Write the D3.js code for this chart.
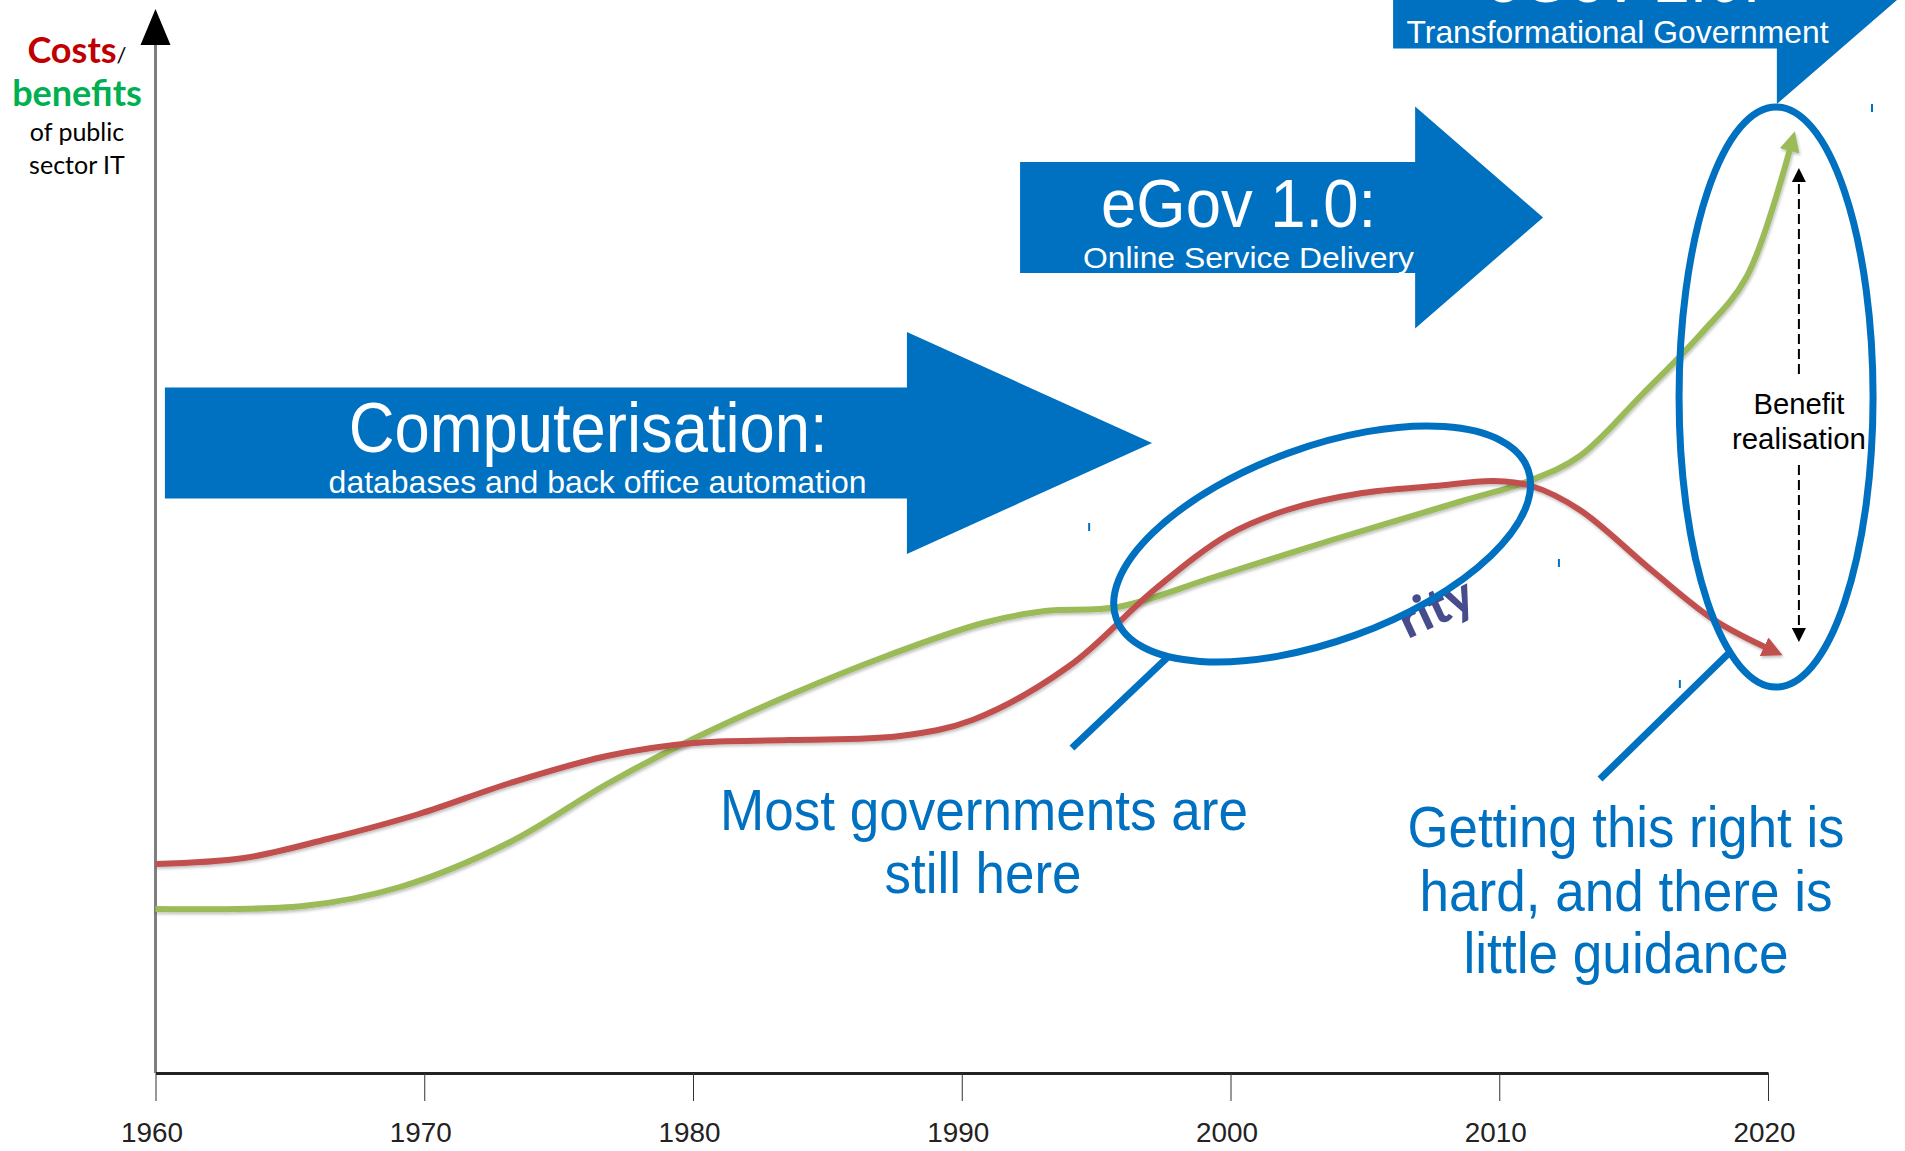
<!DOCTYPE html>
<html>
<head>
<meta charset="utf-8">
<script src="https://cdn.jsdelivr.net/npm/d3@7"></script>
<style>
body { margin: 0; background: #fff; }
</style>
</head>
<body>
<div id="chart"></div>
<script>
// x axis
var tickYears = [1960, 1970, 1980, 1990, 2000, 2010, 2020];

// red curve: costs
var costYears = [1960, 1963.3, 1966.4, 1969.8, 1973.2, 1976.8, 1980, 1983.6, 1987.7, 1990.4, 1994, 1997.2, 1999.9, 2002.1, 2004.9, 2007.6, 2009.8, 2011.2, 2013, 2015.7, 2018, 2020.2];
var costValues = [20.9, 21.5, 23.4, 25.9, 29.0, 31.7, 33.0, 33.3, 33.7, 35.3, 40.7, 48.4, 53.8, 56.3, 58.0, 58.7, 59.2, 58.7, 56.3, 50.2, 45.3, 42.2];

// green curve: benefits
var benefitYears = [1960, 1965.5, 1969.1, 1973.2, 1976.8, 1980, 1983.6, 1987.2, 1990.8, 1993.1, 1995.8, 1999.4, 2003.9, 2008.5, 2011.2, 2013, 2015.3, 2017.5, 2019.2, 2020.9];
var benefitValues = [16.4, 16.7, 18.6, 23.1, 28.9, 33.4, 37.8, 41.7, 45.0, 46.2, 46.6, 49.6, 53.4, 57.1, 59.3, 61.7, 67.8, 73.9, 79.6, 93.2];

// eras, drawn as big blue arrows
var phaseTitles = ["Computerisation:", "eGov 1.0:", "eGov 2.0:"];
var phaseSubtitles = ["databases and back office automation", "Online Service Delivery", "Transformational Government"];
var phaseStart = [1960.35, 1992.17, 2006.05];
var phaseHeadStart = [1987.96, 2006.87, 2020.33];
var phaseTip = [1997.08, 2011.63, 2025.1];
var phaseLevel = [63, 85.55, 108];

var width = 1905, height = 1151;
var blue = "#0070c0", red = "#c0504d", green = "#9bbb59";

var svg = d3.select("#chart").append("svg")
	.attr("width", width)
	.attr("height", height)
	.style("display", "block");

var x = d3.scaleLinear().domain([1960, 2020]).range([155.5, 1768]);
var y = d3.scaleLinear().domain([0, 100]).range([1073, 73]);

var defs = svg.append("defs");

function head(id, color, size, units) {
	defs.append("marker")
		.attr("id", id)
		.attr("viewBox", "0 0 10 10")
		.attr("refX", 5)
		.attr("refY", 5)
		.attr("markerWidth", size)
		.attr("markerHeight", size)
		.attr("markerUnits", units)
		.attr("orient", "auto")
		.append("path")
		.attr("d", "M0,0L10,5L0,10z")
		.attr("fill", color);
}
head("headRed", red, 3.4, "strokeWidth");
head("headGreen", green, 3.4, "strokeWidth");
head("headBlack", "#000", 14, "userSpaceOnUse");

var shadow = defs.append("filter").attr("id", "soft")
	.attr("x", "-5%").attr("y", "-5%").attr("width", "110%").attr("height", "110%");
shadow.append("feDropShadow")
	.attr("dx", 1).attr("dy", 2).attr("stdDeviation", 1.5)
	.attr("flood-color", "#000").attr("flood-opacity", 0.25);

// y axis with arrow on top
svg.append("line")
	.attr("x1", x(1960)).attr("x2", x(1960))
	.attr("y1", y.range()[0]).attr("y2", 40)
	.attr("stroke", "#7f7f7f")
	.attr("stroke-width", 3);
svg.append("path")
	.attr("d", "M" + x(1960) + ",9 L" + (x(1960) + 15) + ",45 L" + (x(1960) - 15) + ",45 Z")
	.attr("fill", "#000");

// x axis
var xAxis = svg.append("g")
	.attr("transform", "translate(0," + y(0) + ")")
	.call(d3.axisBottom(x)
		.tickValues(tickYears)
		.tickFormat(d3.format("d"))
		.tickSize(28)
		.tickSizeOuter(0)
		.tickPadding(21));
xAxis.select(".domain").attr("stroke", "#222").attr("stroke-width", 3);
xAxis.selectAll(".tick line").attr("stroke", "#333").attr("stroke-width", 1);
xAxis.selectAll(".tick text")
	.attr("x", -4)
	.attr("fill", "#222")
	.attr("font-family", "'Liberation Sans', Arial, sans-serif")
	.attr("font-size", 28)
	.attr("textLength", 62)
	.attr("lengthAdjust", "spacingAndGlyphs");

// curves
var line = d3.line()
	.x(function (d) { return x(d[0]); })
	.y(function (d) { return y(d[1]); })
	.curve(d3.curveCatmullRom.alpha(0.5));

svg.append("path")
	.datum(d3.zip(benefitYears, benefitValues))
	.attr("d", line)
	.attr("fill", "none")
	.attr("stroke", green)
	.attr("stroke-width", 6)
	.attr("filter", "url(#soft)")
	.attr("marker-end", "url(#headGreen)");

svg.append("path")
	.datum(d3.zip(costYears, costValues))
	.attr("d", line)
	.attr("fill", "none")
	.attr("stroke", red)
	.attr("stroke-width", 6)
	.attr("filter", "url(#soft)")
	.attr("marker-end", "url(#headRed)");

// "...rity" fragment under the ellipse
svg.append("text")
	.attr("transform", "translate(" + x(2007.9) + "," + y(45.0) + ") rotate(-25)")
	.attr("text-anchor", "middle")
	.attr("font-family", "Lato, 'Open Sans', sans-serif")
	.attr("font-weight", "900")
	.attr("font-size", 50)
	.attr("fill", "#474d8c")
	.text("rity");

// era arrows
var halfBody = 5.55, halfHead = 11.1;
var titleX = [1976.1, 2000.3, 2014.6];
var subX = [1976.45, 2000.67, 2014.4];
var titleSize = [70, 68, 68];
var titleLen = [479, 275, 275];
var subSize = [32, 30, 32];
var subLen = [538, 331, 422];

phaseTitles.forEach(function (t, i) {
	var lv = phaseLevel[i];
	var pts = [
		[phaseStart[i], lv + halfBody],
		[phaseHeadStart[i], lv + halfBody],
		[phaseHeadStart[i], lv + halfHead],
		[phaseTip[i], lv],
		[phaseHeadStart[i], lv - halfHead],
		[phaseHeadStart[i], lv - halfBody],
		[phaseStart[i], lv - halfBody]
	];
	svg.append("polygon")
		.attr("points", pts.map(function (p) { return x(p[0]) + "," + y(p[1]); }).join(" "))
		.attr("fill", blue);

	svg.append("text")
		.attr("x", x(titleX[i]))
		.attr("y", y(lv) + 9)
		.attr("text-anchor", "middle")
		.attr("font-family", "'Liberation Sans', Arial, sans-serif")
		.attr("font-size", titleSize[i])
		.attr("textLength", titleLen[i])
		.attr("lengthAdjust", "spacingAndGlyphs")
		.attr("fill", "#fff")
		.text(t);

	svg.append("text")
		.attr("x", x(subX[i]))
		.attr("y", y(lv) + 50)
		.attr("text-anchor", "middle")
		.attr("font-family", "'Liberation Sans', Arial, sans-serif")
		.attr("font-size", subSize[i])
		.attr("textLength", subLen[i])
		.attr("lengthAdjust", "spacingAndGlyphs")
		.attr("fill", "#fff")
		.text(phaseSubtitles[i]);
});

// ellipses
svg.append("ellipse")
	.attr("transform", "translate(" + x(2003.41) + "," + y(52.9) + ") rotate(-20)")
	.attr("rx", 219)
	.attr("ry", 97)
	.attr("fill", "none")
	.attr("stroke", blue)
	.attr("stroke-width", 7);

svg.append("ellipse")
	.attr("cx", x(2020.3))
	.attr("cy", y(67.6))
	.attr("rx", 97)
	.attr("ry", 290)
	.attr("fill", "none")
	.attr("stroke", blue)
	.attr("stroke-width", 7);

// pointers
var pointers = [[1997.71, 41.7, 1994.1, 32.5], [2018.51, 41.9, 2013.75, 29.4]];
pointers.forEach(function (p) {
	svg.append("line")
		.attr("x1", x(p[0])).attr("y1", y(p[1]))
		.attr("x2", x(p[2])).attr("y2", y(p[3]))
		.attr("stroke", blue)
		.attr("stroke-width", 7);
});

// small stray marks
var marks = [[1994.74, 54.6], [2012.22, 51.0], [2023.87, 96.5], [2016.72, 38.9]];
marks.forEach(function (m) {
	svg.append("line")
		.attr("x1", x(m[0])).attr("x2", x(m[0]))
		.attr("y1", y(m[1]) - 4).attr("y2", y(m[1]) + 4)
		.attr("stroke", blue)
		.attr("stroke-width", 2);
});

// benefit realisation gap
var gapYear = 2021.15;
svg.append("line")
	.attr("x1", x(gapYear)).attr("x2", x(gapYear))
	.attr("y1", y(69.9)).attr("y2", y(89.8))
	.attr("stroke", "#000").attr("stroke-width", 2)
	.attr("stroke-dasharray", "10,5")
	.attr("marker-end", "url(#headBlack)");
svg.append("line")
	.attr("x1", x(gapYear)).attr("x2", x(gapYear))
	.attr("y1", y(60.8)).attr("y2", y(43.8))
	.attr("stroke", "#000").attr("stroke-width", 2)
	.attr("stroke-dasharray", "10,5")
	.attr("marker-end", "url(#headBlack)");

function label(txt, cx, base, size, len, color) {
	var t = svg.append("text")
		.attr("x", cx)
		.attr("y", base)
		.attr("text-anchor", "middle")
		.attr("font-family", "'Liberation Sans', Arial, sans-serif")
		.attr("font-size", size)
		.attr("fill", color)
		.text(txt);
	if (len) t.attr("textLength", len).attr("lengthAdjust", "spacingAndGlyphs");
	return t;
}

label("Benefit", x(gapYear), 414, 30, 91, "#000");
label("realisation", x(gapYear), 449, 30, 134, "#000");

label("Most governments are", 984, 830, 57, 528, blue);
label("still here", 983, 893, 57, 197, blue);
label("Getting this right is", 1626, 847, 57, 437, blue);
label("hard, and there is", 1626, 911, 57, 413, blue);
label("little guidance", 1626, 973, 57, 325, blue);

// y axis title
var yt = svg.append("g")
	.attr("font-family", "Lato, 'Open Sans', sans-serif")
	.attr("text-anchor", "middle");
var t1 = yt.append("text").attr("x", 77).attr("y", 63);
t1.append("tspan").attr("font-weight", "bold").attr("font-size", 36).attr("fill", "#c00000").text("Costs");
t1.append("tspan").attr("font-size", 22).attr("fill", "#000").text("/");
yt.append("text").attr("x", 77).attr("y", 106)
	.attr("font-weight", "bold").attr("font-size", 36).attr("fill", "#00b050").text("benefits");
yt.append("text").attr("x", 77).attr("y", 141)
	.attr("font-size", 25).attr("fill", "#000").text("of public");
yt.append("text").attr("x", 77).attr("y", 174)
	.attr("font-size", 25).attr("fill", "#000").text("sector IT");
</script>
</body>
</html>
